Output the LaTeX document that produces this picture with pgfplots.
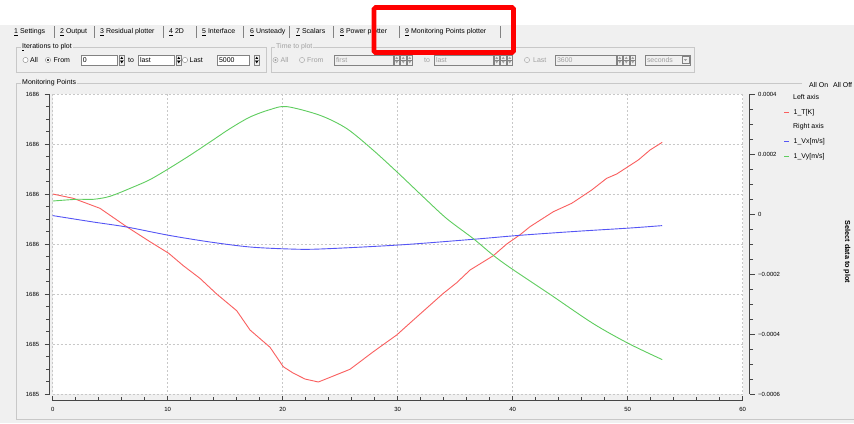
\documentclass[border=0pt]{standalone}
\usepackage{pgfplots}
\usepackage{pgfplotstable}
\pgfplotsset{compat=1.18}
\usepackage{fontspec}
\setmainfont{Liberation Sans}
\definecolor{guibg}{RGB}{240,240,240}
\definecolor{framec}{RGB}{200,200,200}
\definecolor{boxb}{RGB}{130,130,130}
\definecolor{dis}{RGB}{160,160,160}
\definecolor{tred}{RGB}{250,95,95}
\definecolor{tblue}{RGB}{85,85,245}
\definecolor{tgreen}{RGB}{95,205,95}
\definecolor{gridc}{RGB}{200,200,200}
\definecolor{spine}{RGB}{70,70,70}
\definecolor{hl}{RGB}{255,0,0}
\newcommand\gf{\fontsize{7}{8}\selectfont}
\newcommand\tf{\fontsize{6}{7}\selectfont}
\newcommand\spin[2]{\begin{scope}[shift={(#1,55)}]
 \draw[boxb,fill=guibg,line width=0.4bp] (0,0) rectangle (5.5,10);
 \draw[boxb,line width=0.4bp] (0,5) -- (5.5,5);
 \fill[#2] (1.4,3.8) -- (4.1,3.8) -- (2.75,1.6) -- cycle;
 \fill[#2] (1.4,6.2) -- (4.1,6.2) -- (2.75,8.4) -- cycle;
\end{scope}}
\newcommand\tbox[5]{\draw[boxb,fill=#5,line width=0.4bp] (#1,55) rectangle (#2,65);
 \node[anchor=west,inner sep=0,text=#4] at (#1+1.8,60) {\gf #3};}

% Monitoring point 1: temperature (T - 1685 K), velocities in m/s
\pgfplotstableread{
x dT
0 0.7006
1.79 0.692
4.11 0.672
6.43 0.6352
8.46 0.6052
10.09 0.582
11.36 0.5572
12.8 0.532
14.26 0.5006
16.0 0.4672
17.16 0.4286
18.9 0.394
20.05 0.3552
20.9 0.3426
21.94 0.3306
23.1 0.3246
25.85 0.35
27.88 0.3852
29.91 0.4186
31.36 0.4486
33.97 0.502
35.13 0.5232
36.29 0.5486
38.31 0.5772
39.48 0.6006
40.63 0.619
41.5 0.6352
43.53 0.6652
45.13 0.682
46.87 0.7086
48.17 0.732
49.04 0.7406
50.92 0.7686
51.94 0.7886
53.0 0.804
}\tdata
\pgfplotstableread{
x vx
0 -0.0000043
3.53 -0.0000257
6.43 -0.0000423
10.09 -0.000070
13.68 -0.0000923
17.16 -0.000109
20.63 -0.0001157
23.24 -0.0001157
30.09 -0.0001023
36.57 -0.0000833
40.63 -0.000070
45.57 -0.0000567
50.2 -0.0000457
53.0 -0.0000377
}\vxdata
\pgfplotstableread{
x vy
0 0.0000443
2.09 0.0000500
3.53 0.00005
4.98 0.00006
7.01 0.000091
8.46 0.0001157
10.09 0.0001523
11.94 0.0001967
13.68 0.000241
15.42 0.0002857
17.16 0.0003243
18.9 0.000349
20.35 0.0003590
23.24 0.00033
25.57 0.0002857
27.88 0.0002133
30.09 0.0001357
32.23 0.0000577
34.26 -0.0000143
36.57 -0.000081
38.31 -0.0001367
39.77 -0.0001777
43.24 -0.0002667
47.0 -0.0003643
50.09 -0.000431
53.0 -0.0004843
}\vydata

\begin{document}
\begin{tikzpicture}
\begin{scope}[x=1bp,y=-1bp]
\path[use as bounding box] (0,0) rectangle (854,423);
\fill[white] (0,0) rectangle (854,423);
\fill[guibg] (0,25) rectangle (854,423);
% tabs
\foreach \sx in {54,94,163,196,243,289,333,399,500}{\draw[boxb,line width=0.5bp] (\sx,26) -- (\sx,38);}
\node[anchor=west,inner sep=0] at (14,32) {\gf\underline{1} Settings};
\node[anchor=west,inner sep=0] at (60,32) {\gf\underline{2} Output};
\node[anchor=west,inner sep=0] at (100,32) {\gf\underline{3} Residual plotter};
\node[anchor=west,inner sep=0] at (169,32) {\gf\underline{4} 2D};
\node[anchor=west,inner sep=0] at (202,32) {\gf\underline{5} Interface};
\node[anchor=west,inner sep=0] at (250,32) {\gf\underline{6} Unsteady};
\node[anchor=west,inner sep=0] at (296,32) {\gf\underline{7} Scalars};
\node[anchor=west,inner sep=0] at (340,32) {\gf\underline{8} Power plotter};
\node[anchor=west,inner sep=0] at (405,32) {\gf\underline{9} Monitoring Points plotter};
% iterations group
\draw[framec,line width=0.6bp] (16.5,47) rectangle (266,72);
\node[anchor=west,inner sep=1bp,fill=guibg] at (21,47) {\gf\underline{I}terations to plot};
\draw[boxb,fill=white,line width=0.4bp] (25.5,60) circle (2.6);
\node[anchor=west,inner sep=0] at (30,60) {\gf All};
\draw[boxb,fill=white,line width=0.4bp] (48,60) circle (2.6);
\fill[black] (48,60) circle (1.1);
\node[anchor=west,inner sep=0] at (53.5,60) {\gf From};
\tbox{81}{117}{0}{black}{white}
\spin{119}{black}
\node[anchor=west,inner sep=0] at (128,60) {\gf to};
\tbox{138}{174}{last}{black}{white}
\spin{176}{black}
\draw[boxb,fill=white,line width=0.4bp] (185,60) circle (2.6);
\node[anchor=west,inner sep=0] at (189.5,60) {\gf Last};
\tbox{217}{249}{5000}{black}{white}
\spin{254}{black}
% time group
\draw[framec,line width=0.6bp] (271,47) rectangle (694,72);
\node[anchor=west,inner sep=1bp,fill=guibg,text=dis] at (275,47) {\gf Time to plot};
\draw[dis,fill=guibg,line width=0.4bp] (275.5,60) circle (2.6);
\fill[dis] (275.5,60) circle (1.1);
\node[anchor=west,inner sep=0,text=dis] at (280.5,60) {\gf All};
\draw[dis,fill=guibg,line width=0.4bp] (302,60) circle (2.6);
\node[anchor=west,inner sep=0,text=dis] at (307,60) {\gf From};
\tbox{334}{393}{first}{dis}{guibg}
\spin{394}{dis}\spin{400.5}{dis}\spin{407}{dis}
\node[anchor=west,inner sep=0,text=dis] at (424,60) {\gf to};
\tbox{434}{493}{last}{dis}{guibg}
\spin{494}{dis}\spin{500.5}{dis}\spin{507}{dis}
\draw[dis,fill=guibg,line width=0.4bp] (527,60) circle (2.6);
\node[anchor=west,inner sep=0,text=dis] at (533,60) {\gf Last};
\tbox{555}{616}{3600}{dis}{guibg}
\spin{617}{dis}\spin{623.5}{dis}\spin{630}{dis}
\tbox{645}{690}{seconds}{dis}{guibg}
\draw[boxb,fill=guibg,line width=0.4bp] (682,56.5) rectangle (689,63.5);
\fill[dis] (683.8,59) -- (687.2,59) -- (685.5,61.2) -- cycle;
% monitoring points frame
\draw[framec,line width=0.6bp] (802,83) -- (16.5,83) -- (16.5,419) -- (854,419);
\node[anchor=west,inner sep=1bp,fill=guibg] at (21,83) {\gf Monitoring Points};
\node[anchor=west,inner sep=0] at (809,85) {\gf All On};
\node[anchor=west,inner sep=0] at (833,85) {\gf All Off};
% plot area and its dotted grid
\fill[white] (52.7,94.3) rectangle (742.7,394.3);
\foreach \gx in {0,...,6}{\draw[gridc,line width=0.7bp,dash pattern=on 2bp off 2bp] (52.7+115*\gx,94.3) -- (52.7+115*\gx,394.3);}
\foreach \gy in {0,...,6}{\draw[gridc,line width=0.7bp,dash pattern=on 2bp off 2bp] (52.7,94.3+50*\gy) -- (742.7,94.3+50*\gy);}
% legend
\node[anchor=west,inner sep=0] at (793,97.5) {\gf Left axis};
\draw[tred,line width=1.2bp] (784,112.7) -- (789,112.7);
\node[anchor=west,inner sep=0] at (793.5,112.7) {\gf 1\_T[K]};
\node[anchor=west,inner sep=0] at (793,127) {\gf Right axis};
\draw[tblue,line width=1.2bp] (784,141.3) -- (789,141.3);
\node[anchor=west,inner sep=0] at (793.5,141.3) {\gf 1\_Vx[m/s]};
\draw[tgreen,line width=1.2bp] (784,156.5) -- (789,156.5);
\node[anchor=west,inner sep=0] at (793.5,156.5) {\gf 1\_Vy[m/s]};
\node[rotate=-90,inner sep=0] at (847,252) {\fontsize{7.3}{8}\selectfont\bfseries Select data to plot};
\end{scope}

\begin{axis}[
 at={(52.7bp,-394.3bp)}, anchor=south west,
 scale only axis, width=690bp, height=300bp,
 xmin=0, xmax=60, ymin=0.3, ymax=0.9,
 axis x line*=bottom, axis y line*=left,
 axis x line shift=6.5bp, axis y line shift=3bp,
 axis line style={spine, line width=1.1bp, -},
 xtick={0,10,20,30,40,50,60}, minor x tick num=4,
 ytick={0.3,0.4,0.5,0.6,0.7,0.8,0.9},
 yticklabels={1685,1685,1686,1686,1686,1686,1686},
 minor y tick num=3,
 xtick align=inside, ytick align=outside,
 major tick length=5bp, minor tick length=3.5bp,
 every tick/.style={spine, line width=0.9bp},
 ticklabel style={font=\tf, text=black},
 /pgf/number format/assume math mode=true,
 xticklabel style={yshift=-3bp},
 yticklabel style={xshift=-2bp},
]
\addplot[tred, line width=0.9bp] table[x=x,y=dT]{\tdata};
\end{axis}

\begin{axis}[
 at={(52.7bp,-394.3bp)}, anchor=south west,
 scale only axis, width=690bp, height=300bp,
 xmin=0, xmax=60, ymin=-0.0006, ymax=0.0004,
 hide x axis,
 axis y line*=right, axis y line shift=7bp,
 axis line style={spine, line width=1.1bp, -},
 ytick={-0.0006,-0.0004,-0.0002,0,0.0002,0.0004},
 yticklabels={−0.0006,−0.0004,−0.0002,0,0.0002,0.0004},
 scaled y ticks=false,
 minor y tick num=3, ytick align=outside,
 major tick length=5bp, minor tick length=3.5bp,
 every tick/.style={spine, line width=0.9bp},
 ticklabel style={font=\tf, text=black},
]
\addplot[tblue, line width=0.9bp, smooth, tension=0.5] table[x=x,y=vx]{\vxdata};
\addplot[tgreen, line width=0.9bp, smooth, tension=0.5] table[x=x,y=vy]{\vydata};
\end{axis}

\begin{scope}[x=1bp,y=-1bp]
\draw[hl,line width=4.6bp,rounded corners=1.5bp] (374,7.5) rectangle (513.5,52.5);
\end{scope}
\end{tikzpicture}
\end{document}
